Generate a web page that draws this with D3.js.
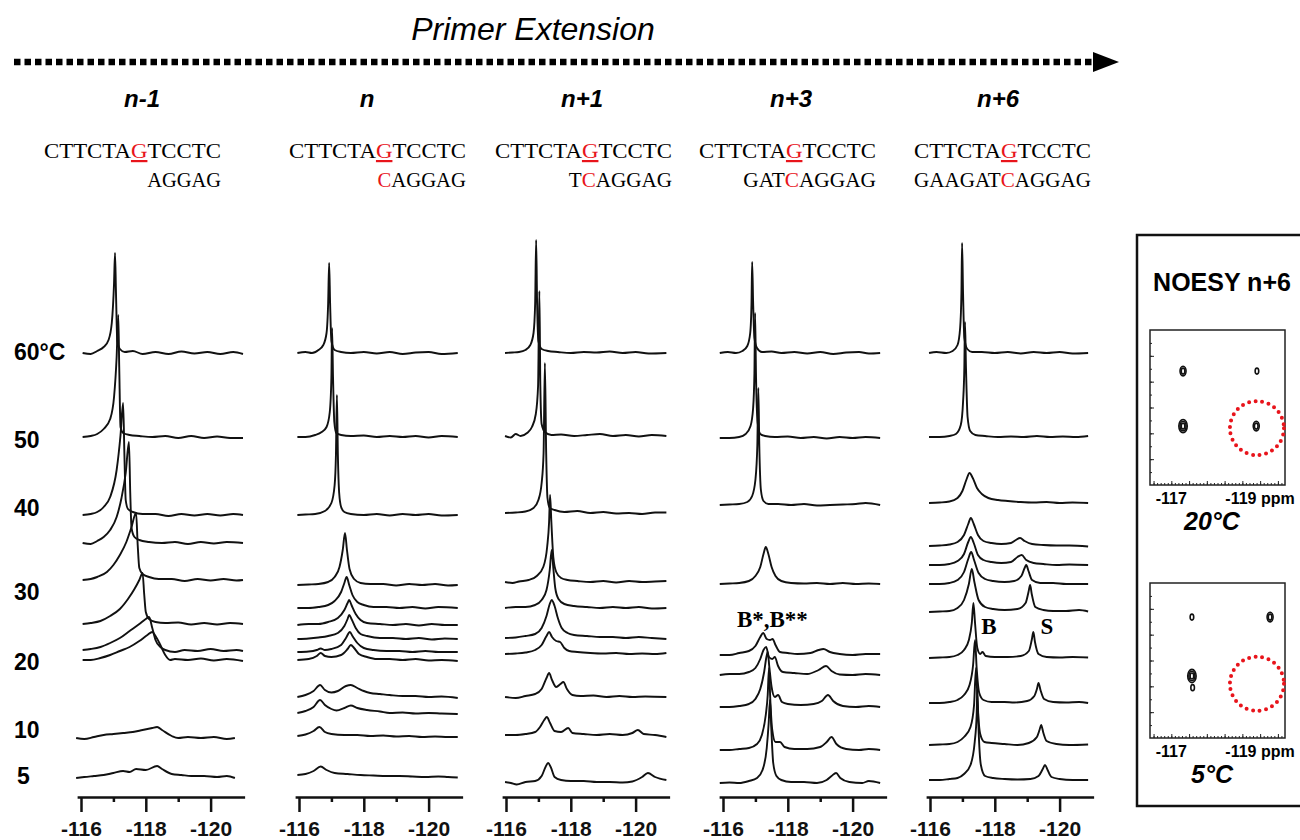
<!DOCTYPE html>
<html>
<head>
<meta charset="utf-8">
<script src="https://cdn.jsdelivr.net/npm/d3@7"></script>
<style>
  body { margin: 0; background: #fff; }
  svg { display: block; }
  .trace { fill: none; stroke: #111; stroke-width: 1.9; stroke-linejoin: round; }
  .axis path, .axis line { stroke: #111; stroke-width: 2.5; }
  .axis text { font-family: "Liberation Sans", Arial, sans-serif; font-weight: bold; font-size: 21px; fill: #111; }
</style>
</head>
<body>
<div id="chart"></div>
<script>
"use strict"

// ---- data ----
var panelNames = ['n-1', 'n', 'n+1', 'n+3', 'n+6'];
var topStrand = 'CTTCTAGTCCTC';
var bottomStrands = ['AGGAG', 'CAGGAG', 'TCAGGAG', 'GATCAGGAG', 'GAAGATCAGGAG'];
var redTop = 6;                       // underlined red G
var redBottom = [-1, 0, 1, 3, 6];     // red C in the new strand

var tempLabels = ['60°C', '50', '40', '30', '20', '10', '5'];
var tempLevels = [44.8, 36.0, 29.2, 20.8, 13.8, 7.0, 2.4]; // stacked intensity units

var majorTicks = [-116, -118, -120];
var minorTicks = [-117, -119];

// each trace: [baseline offset, [[ppm, intensity], ...]]
var specNm1 = [
  [44.7, [[-116.05,0],[-116.3,-0.1],[-116.5,0.2],[-116.7,0.6],[-116.85,1.3],[-116.95,3],[-117.02,7],[-117.05,10],[-117.08,6],[-117.12,1.2],[-117.2,0.4],[-117.35,0.1],[-117.6,0.2],[-117.9,-0.1],[-118.3,0.1],[-118.7,-0.1],[-119.1,0.15],[-119.5,-0.05],[-119.9,0.1],[-120.3,-0.1],[-120.7,0.1],[-121,-0.1]]],
  [36.3, [[-116.05,0],[-116.3,0.1],[-116.5,0.3],[-116.7,0.8],[-116.9,1.8],[-117.02,4],[-117.1,8],[-117.15,12.2],[-117.18,7],[-117.22,1],[-117.3,0.4],[-117.5,0.2],[-117.8,0.1],[-118.2,0],[-118.6,0.1],[-119,-0.1],[-119.4,0.1],[-119.8,-0.1],[-120.2,0.05],[-120.6,-0.1],[-121,-0.1]]],
  [28.5, [[-116.05,0],[-116.3,0.1],[-116.5,0.3],[-116.7,0.8],[-116.9,1.8],[-117.1,4.5],[-117.22,8],[-117.3,11.2],[-117.34,6],[-117.38,1.5],[-117.45,0.6],[-117.6,0.3],[-117.9,0.1],[-118.3,0.1],[-118.7,-0.1],[-119.1,0.1],[-119.5,-0.05],[-119.9,0.1],[-120.3,-0.05],[-120.7,0.1],[-121,0]]],
  [25.7, [[-116.05,0],[-116.3,-0.1],[-116.5,0.2],[-116.7,0.6],[-116.9,1.3],[-117.1,2.6],[-117.25,4.5],[-117.38,7],[-117.48,10.1],[-117.52,5],[-117.56,1.5],[-117.65,0.6],[-117.8,0.3],[-118.1,0.1],[-118.5,0],[-118.9,0.1],[-119.3,-0.1],[-119.7,0.1],[-120.1,-0.05],[-120.5,0.1],[-121,0]]],
  [22.0, [[-116.05,0],[-116.3,0.1],[-116.5,0.3],[-116.8,0.8],[-117.0,1.5],[-117.2,2.5],[-117.4,3.8],[-117.55,5.2],[-117.7,6.7],[-117.75,3.5],[-117.8,1.2],[-117.9,0.6],[-118.1,0.3],[-118.4,0.1],[-118.8,0.1],[-119.2,-0.1],[-119.6,0.1],[-120,-0.05],[-120.4,0.1],[-120.8,-0.05],[-121,0]]],
  [17.6, [[-116.05,0],[-116.3,0.1],[-116.6,0.3],[-116.9,0.8],[-117.2,1.5],[-117.45,2.5],[-117.65,3.5],[-117.8,4.4],[-117.9,5.1],[-117.95,3],[-118.0,1.2],[-118.1,0.5],[-118.3,0.2],[-118.6,0.1],[-119,0.15],[-119.4,-0.05],[-119.8,0.1],[-120.2,-0.05],[-120.6,0.1],[-121,0]]],
  [15.0, [[-116.05,0],[-116.3,0.1],[-116.6,0.3],[-116.9,0.7],[-117.2,1.2],[-117.5,1.9],[-117.8,2.6],[-118.0,3.1],[-118.1,3.3],[-118.2,2.2],[-118.3,1],[-118.45,0.3],[-118.6,0],[-118.9,-0.2],[-119.2,0],[-119.6,-0.1],[-120,0.1],[-120.4,-0.1],[-120.8,0],[-121,-0.1]]],
  [14.0, [[-116.05,0],[-116.3,0],[-116.6,0.2],[-116.9,0.5],[-117.2,0.9],[-117.5,1.3],[-117.8,1.9],[-118.05,2.5],[-118.2,2.8],[-118.3,2.4],[-118.45,1.5],[-118.6,0.5],[-118.75,0],[-118.9,0.1],[-119.3,0],[-119.7,0.15],[-120.1,-0.05],[-120.5,0.1],[-121,-0.1]]],
  [6.2, [[-115.85,0],[-116.1,-0.1],[-116.4,0.1],[-116.7,0.3],[-117.0,0.4],[-117.3,0.5],[-117.6,0.6],[-117.9,0.8],[-118.2,1],[-118.35,1.1],[-118.5,0.8],[-118.8,0.2],[-119.0,0],[-119.3,0.1],[-119.7,0],[-120.1,0.1],[-120.5,-0.1],[-120.75,0]]],
  [2.2, [[-115.85,0],[-116.1,0.1],[-116.4,0.2],[-116.7,0.3],[-117.0,0.5],[-117.3,0.7],[-117.5,0.6],[-117.7,0.9],[-118.0,0.8],[-118.35,1.2],[-118.5,0.9],[-118.8,0.4],[-119.1,0.3],[-119.4,0.2],[-119.8,0.2],[-120.2,0.1],[-120.5,0.2],[-120.75,0]]]
];

var specN = [
  [44.7, [[-115.95,0],[-116.2,0.1],[-116.4,0],[-116.6,0.3],[-116.75,0.8],[-116.85,2],[-116.9,5],[-116.93,9],[-116.96,5],[-117.0,1.2],[-117.1,0.3],[-117.3,0.1],[-117.6,0],[-118,0.1],[-118.4,-0.05],[-118.8,0.1],[-119.2,-0.1],[-119.6,0.05],[-120,0.1],[-120.4,-0.1],[-120.9,0]]],
  [36.3, [[-115.95,0],[-116.2,0],[-116.5,0.2],[-116.7,0.5],[-116.85,1],[-116.95,2.5],[-117.0,6],[-117.02,10.9],[-117.05,6],[-117.09,1.5],[-117.15,0.4],[-117.3,0.2],[-117.6,0.1],[-118,0.15],[-118.4,0],[-118.8,0.1],[-119.2,0],[-119.6,0.1],[-120,-0.05],[-120.4,0.1],[-120.9,0]]],
  [28.5, [[-115.95,0],[-116.2,0.05],[-116.5,0.1],[-116.8,0.4],[-117.0,1.2],[-117.1,3],[-117.14,6],[-117.17,12],[-117.2,6],[-117.24,2.2],[-117.3,0.8],[-117.4,0.3],[-117.6,0.1],[-118,0],[-118.4,0.1],[-118.8,-0.05],[-119.2,0.1],[-119.6,0],[-120,0.1],[-120.4,-0.05],[-120.9,0]]],
  [21.5, [[-115.95,0],[-116.3,0.05],[-116.6,0.1],[-116.9,0.3],[-117.1,0.8],[-117.25,1.8],[-117.35,3.5],[-117.42,5.2],[-117.48,3.5],[-117.56,1.6],[-117.7,0.6],[-117.9,0.2],[-118.2,0.1],[-118.6,0.1],[-119,-0.05],[-119.4,0.1],[-119.8,0],[-120.2,0.1],[-120.6,-0.05],[-120.9,0]]],
  [19.2, [[-115.95,0],[-116.3,0],[-116.6,0.1],[-116.9,0.3],[-117.1,0.7],[-117.3,1.6],[-117.4,2.5],[-117.47,3.1],[-117.55,2.3],[-117.65,1.3],[-117.8,0.6],[-118,0.3],[-118.3,0.1],[-118.7,0.1],[-119.1,0],[-119.5,0.1],[-119.9,-0.05],[-120.3,0.1],[-120.9,0]]],
  [17.5, [[-115.95,0],[-116.3,0.1],[-116.6,0.1],[-116.9,0.3],[-117.2,0.7],[-117.4,1.5],[-117.5,2.2],[-117.55,2.5],[-117.62,2],[-117.75,1.1],[-117.9,0.5],[-118.1,0.2],[-118.5,0.1],[-118.9,0],[-119.3,0.1],[-119.7,-0.05],[-120.1,0.1],[-120.5,0],[-120.9,0]]],
  [16.1, [[-115.95,0],[-116.3,0.05],[-116.6,0.15],[-116.9,0.3],[-117.2,0.6],[-117.4,1.3],[-117.5,2],[-117.55,2.4],[-117.62,2],[-117.75,1.1],[-117.9,0.5],[-118.1,0.3],[-118.5,0.1],[-118.9,0.1],[-119.3,0],[-119.7,0.1],[-120.1,-0.05],[-120.5,0.05],[-120.9,0]]],
  [14.8, [[-115.95,0],[-116.3,0.05],[-116.55,0.2],[-116.67,0.35],[-116.8,0.2],[-117.0,0.3],[-117.3,0.7],[-117.45,1.4],[-117.57,2.0],[-117.65,1.6],[-117.8,0.9],[-118,0.4],[-118.3,0.2],[-118.7,0.1],[-119.1,0.1],[-119.5,0],[-119.9,0.1],[-120.3,0],[-120.9,0]]],
  [14.0, [[-115.95,0],[-116.3,0.1],[-116.55,0.4],[-116.67,0.7],[-116.8,0.4],[-117.0,0.3],[-117.3,0.5],[-117.5,1.1],[-117.6,1.5],[-117.7,1.2],[-117.85,0.6],[-118.1,0.3],[-118.4,0.1],[-118.8,0.1],[-119.2,0],[-119.6,0.1],[-120,-0.05],[-120.4,0],[-120.9,-0.1]]],
  [10.3, [[-115.95,0],[-116.2,0.2],[-116.45,0.6],[-116.65,1.2],[-116.8,0.7],[-117.0,0.45],[-117.2,0.6],[-117.45,1.1],[-117.6,1.2],[-117.8,0.9],[-118.0,0.6],[-118.2,0.4],[-118.5,0.3],[-118.8,0.2],[-119.2,0.1],[-119.6,0.1],[-120,0],[-120.4,0.05],[-120.9,-0.1]]],
  [8.7, [[-115.95,0],[-116.2,0.2],[-116.45,0.6],[-116.65,1.3],[-116.8,0.8],[-117.0,0.4],[-117.16,0.25],[-117.4,0.5],[-117.6,0.75],[-117.8,0.5],[-118.1,0.3],[-118.5,0.15],[-118.8,0],[-119.2,0.05],[-119.6,-0.05],[-120,0],[-120.4,-0.05],[-120.9,-0.1]]],
  [6.4, [[-115.95,0],[-116.2,0.15],[-116.45,0.5],[-116.63,0.9],[-116.8,0.4],[-117.0,0.2],[-117.4,0.1],[-117.8,0.1],[-118.2,0],[-118.6,0.05],[-119,-0.05],[-119.4,0],[-119.8,-0.1],[-120.2,-0.05],[-120.6,-0.1],[-120.9,-0.1]]],
  [2.5, [[-115.95,0],[-116.2,0.1],[-116.45,0.4],[-116.67,0.85],[-116.85,0.5],[-117.1,0.2],[-117.5,0.1],[-117.9,0],[-118.3,-0.05],[-118.7,-0.1],[-119.1,-0.1],[-119.5,-0.15],[-119.9,-0.2],[-120.3,-0.15],[-120.6,-0.2],[-120.9,-0.25]]]
];

var specN1 = [
  [44.7, [[-115.97,0],[-116.2,0.05],[-116.4,0.1],[-116.6,0.3],[-116.75,0.8],[-116.85,2],[-116.9,5],[-116.93,11.3],[-116.96,5],[-117.0,1.2],[-117.1,0.4],[-117.3,0.2],[-117.6,0.1],[-118,0],[-118.4,0.1],[-118.8,0.05],[-119.2,0.15],[-119.6,0],[-120,0.1],[-120.4,-0.05],[-120.95,0]]],
  [36.4, [[-115.97,0],[-116.15,-0.15],[-116.3,0.2],[-116.45,0],[-116.65,0.3],[-116.8,0.9],[-116.92,2.2],[-116.99,5],[-117.03,14.5],[-117.06,5],[-117.1,1.2],[-117.2,0.4],[-117.4,0.1],[-117.7,0.15],[-118.1,0],[-118.5,0.1],[-118.9,0.2],[-119.3,0],[-119.7,0.1],[-120.1,-0.05],[-120.5,0.1],[-120.95,0]]],
  [28.7, [[-115.97,0],[-116.3,0.05],[-116.6,0.15],[-116.85,0.5],[-117.0,1.3],[-117.1,3],[-117.16,6],[-117.2,15],[-117.24,6],[-117.28,1.5],[-117.35,0.5],[-117.5,0.3],[-117.8,0.1],[-118.2,0.2],[-118.6,0],[-119,0.1],[-119.4,-0.05],[-119.8,0],[-120.2,-0.1],[-120.6,0.05],[-120.95,0.05]]],
  [21.8, [[-115.97,0],[-116.2,-0.1],[-116.4,0.05],[-116.7,0.2],[-116.95,0.6],[-117.15,1.5],[-117.27,3.5],[-117.33,6],[-117.36,8.7],[-117.4,6],[-117.46,2.5],[-117.55,1],[-117.7,0.4],[-117.9,0.2],[-118.2,0.1],[-118.6,0],[-119,0.1],[-119.4,-0.05],[-119.8,0.1],[-120.2,0],[-120.6,0.05],[-120.95,0.1]]],
  [19.2, [[-115.97,0],[-116.3,0.1],[-116.6,0.1],[-116.9,0.3],[-117.1,0.8],[-117.25,1.8],[-117.35,3.8],[-117.41,5.8],[-117.46,4],[-117.52,2],[-117.62,0.9],[-117.8,0.4],[-118.1,0.2],[-118.5,0.1],[-118.9,0],[-119.3,0.1],[-119.7,0],[-120.1,0.1],[-120.5,-0.05],[-120.95,0]]],
  [16.2, [[-115.97,0],[-116.3,0.05],[-116.6,0.2],[-116.9,0.4],[-117.1,1],[-117.25,2.2],[-117.35,3.4],[-117.41,3.8],[-117.5,3.2],[-117.6,2],[-117.72,1],[-117.9,0.5],[-118.1,0.3],[-118.5,0.2],[-118.9,0.1],[-119.3,0.1],[-119.7,0],[-120.1,0.1],[-120.5,0],[-120.95,-0.1]]],
  [14.6, [[-115.97,0],[-116.3,0.05],[-116.6,0.15],[-116.9,0.4],[-117.1,0.9],[-117.25,1.8],[-117.33,2.2],[-117.42,1.7],[-117.55,1.3],[-117.67,1.2],[-117.8,0.6],[-117.95,0.3],[-118.2,0.2],[-118.6,0.1],[-119,0.05],[-119.4,0.1],[-119.8,0],[-120.2,0.05],[-120.6,0],[-120.95,0.1]]],
  [10.3, [[-115.97,0],[-116.3,-0.1],[-116.6,0.1],[-116.9,0.3],[-117.1,0.8],[-117.25,1.9],[-117.33,2.4],[-117.42,1.7],[-117.55,1.0],[-117.68,1.3],[-117.77,1.5],[-117.88,0.8],[-118.05,0.2],[-118.3,0.1],[-118.7,0.15],[-119.1,0],[-119.5,0.1],[-119.9,0],[-120.3,0.05],[-120.95,0]]],
  [6.5, [[-115.97,0],[-116.3,0],[-116.6,0.1],[-116.9,0.3],[-117.05,0.8],[-117.18,1.5],[-117.26,1.8],[-117.36,1.2],[-117.5,0.4],[-117.7,0.3],[-117.92,0.7],[-118.05,0.2],[-118.4,0.1],[-118.8,0],[-119.2,0.1],[-119.6,0],[-119.9,0.2],[-120.07,0.5],[-120.25,0.1],[-120.6,0],[-120.95,-0.2]]],
  [1.8, [[-115.97,0],[-116.15,-0.1],[-116.33,-0.25],[-116.6,0],[-116.9,0.1],[-117.1,0.6],[-117.22,1.5],[-117.3,1.9],[-117.38,1.5],[-117.5,0.5],[-117.7,0.2],[-118,0.1],[-118.4,0.1],[-118.8,0],[-119.2,0],[-119.6,-0.05],[-119.9,0.05],[-120.2,0.5],[-120.38,0.9],[-120.6,0.5],[-120.95,0.2]]]
];

var specN3 = [
  [44.7, [[-115.9,0],[-116.15,0.1],[-116.4,0],[-116.6,0.2],[-116.75,0.7],[-116.84,2],[-116.88,5],[-116.9,9.1],[-116.93,5],[-116.97,1.5],[-117.05,0.5],[-117.2,0.1],[-117.5,0.15],[-117.8,0],[-118.2,0.1],[-118.6,-0.05],[-119,0.1],[-119.4,-0.1],[-119.8,0.05],[-120.2,0.1],[-120.5,-0.05],[-120.85,0]]],
  [36.2, [[-115.9,0],[-116.2,0],[-116.5,0.1],[-116.7,0.4],[-116.85,1.2],[-116.93,3],[-116.97,6.5],[-116.99,12.5],[-117.02,6],[-117.07,1.5],[-117.15,0.4],[-117.3,0.2],[-117.6,0.1],[-118,0.15],[-118.4,0],[-118.8,0.1],[-119.2,-0.05],[-119.6,0.1],[-120,0],[-120.4,0.1],[-120.85,0]]],
  [29.5, [[-115.9,0],[-116.2,0.05],[-116.5,0.1],[-116.75,0.3],[-116.9,0.9],[-117.0,2.5],[-117.06,6],[-117.09,11.7],[-117.12,6],[-117.17,1.5],[-117.25,0.4],[-117.4,0.1],[-117.7,0.1],[-118.1,0],[-118.5,0.1],[-118.9,-0.05],[-119.3,0],[-119.7,0.05],[-120.1,0.1],[-120.4,0.2],[-120.85,0]]],
  [21.6, [[-115.9,0],[-116.2,0.05],[-116.5,0.1],[-116.8,0.3],[-117.0,0.8],[-117.15,1.7],[-117.25,3],[-117.32,3.7],[-117.4,3],[-117.5,1.7],[-117.62,0.8],[-117.8,0.3],[-118.1,0.1],[-118.5,0.05],[-118.9,0.1],[-119.3,0],[-119.7,0.1],[-120.1,0],[-120.5,0.05],[-120.85,0]]],
  [14.5, [[-115.9,0],[-116.2,0],[-116.5,0.2],[-116.8,0.4],[-117.0,0.9],[-117.15,1.8],[-117.24,2.2],[-117.35,1.6],[-117.45,1.5],[-117.53,1.6],[-117.62,1],[-117.76,0.3],[-118,0.2],[-118.3,0.1],[-118.7,0.2],[-118.95,0.5],[-119.1,0.6],[-119.3,0.3],[-119.6,0.1],[-120,0],[-120.4,0.1],[-120.85,0.1]]],
  [12.5, [[-115.9,0],[-116.2,0.1],[-116.5,0.1],[-116.8,0.3],[-117.0,0.7],[-117.15,1.6],[-117.25,2.5],[-117.33,2.8],[-117.42,1.8],[-117.52,1.6],[-117.6,1.8],[-117.7,0.9],[-117.85,0.3],[-118.2,0.2],[-118.6,0.1],[-118.95,0.5],[-119.18,0.9],[-119.35,0.4],[-119.6,0.05],[-120,0],[-120.4,0.1],[-120.85,0]]],
  [9.3, [[-115.9,0],[-116.2,0],[-116.5,0.1],[-116.8,0.3],[-117.0,0.8],[-117.15,1.8],[-117.27,3.5],[-117.34,5],[-117.38,5.5],[-117.43,4],[-117.5,2],[-117.6,1],[-117.7,1.2],[-117.82,0.5],[-118,0.3],[-118.4,0.2],[-118.8,0.3],[-119.05,0.6],[-119.24,1.2],[-119.4,0.6],[-119.7,0.1],[-120.1,0],[-120.5,0.1],[-120.85,0]]],
  [5.0, [[-115.9,0],[-116.2,0],[-116.5,0.1],[-116.8,0.2],[-117.05,0.6],[-117.2,1.5],[-117.32,3.5],[-117.38,5.5],[-117.42,8.2],[-117.46,5],[-117.52,2],[-117.62,0.8],[-117.76,0.8],[-117.9,0.3],[-118.2,0.1],[-118.6,0.1],[-119,0.3],[-119.2,0.8],[-119.35,1.3],[-119.5,0.6],[-119.8,0.1],[-120.2,0],[-120.5,0.1],[-120.85,0]]],
  [1.7, [[-115.9,0],[-116.2,0.05],[-116.5,0],[-116.8,0.2],[-117.05,0.5],[-117.22,1.3],[-117.35,3.5],[-117.41,6],[-117.45,8.3],[-117.49,5.5],[-117.55,2],[-117.65,0.7],[-117.8,0.3],[-118.1,0.1],[-118.5,0.1],[-118.9,0],[-119.2,0.3],[-119.35,0.7],[-119.49,1],[-119.62,0.5],[-119.9,0.1],[-120.3,0],[-120.5,0.2],[-120.85,0]]]
];

var specN6 = [
  [44.7, [[-115.97,0],[-116.2,0.1],[-116.5,0],[-116.7,0.2],[-116.85,0.8],[-116.93,2.5],[-116.97,6],[-116.99,11],[-117.02,6],[-117.06,1.5],[-117.15,0.4],[-117.3,0.1],[-117.6,0.1],[-118,0],[-118.4,0.1],[-118.8,-0.05],[-119.2,0.1],[-119.6,0],[-120,0.1],[-120.4,-0.05],[-120.88,0]]],
  [36.3, [[-115.97,0],[-116.3,0],[-116.6,0.1],[-116.8,0.3],[-116.95,1.2],[-117.02,3.5],[-117.06,7],[-117.08,11.5],[-117.11,7],[-117.16,2],[-117.24,0.6],[-117.4,0.2],[-117.7,0.1],[-118.1,0],[-118.5,0.05],[-118.9,0],[-119.3,0.1],[-119.7,0],[-120.1,0.05],[-120.5,0],[-120.88,0.1]]],
  [29.7, [[-115.97,0],[-116.3,0.05],[-116.6,0.15],[-116.85,0.5],[-117.0,1.2],[-117.12,2.3],[-117.22,3],[-117.32,2.5],[-117.45,1.5],[-117.6,0.9],[-117.8,0.5],[-118.1,0.3],[-118.4,0.2],[-118.8,0.1],[-119.2,0.05],[-119.6,0.1],[-120,0],[-120.4,0.05],[-120.88,0]]],
  [25.4, [[-115.97,0],[-116.3,0.05],[-116.6,0.15],[-116.85,0.4],[-117.05,1.1],[-117.18,2.2],[-117.26,2.8],[-117.35,2.2],[-117.48,1.1],[-117.65,0.5],[-117.9,0.3],[-118.2,0.2],[-118.5,0.3],[-118.65,0.6],[-118.78,0.8],[-118.92,0.5],[-119.15,0.2],[-119.5,0.1],[-119.9,0.05],[-120.3,0.05],[-120.88,-0.05]]],
  [23.5, [[-115.97,0],[-116.3,0],[-116.6,0.1],[-116.85,0.4],[-117.05,1.1],[-117.18,2.3],[-117.26,2.8],[-117.35,2.2],[-117.48,1],[-117.65,0.5],[-117.9,0.3],[-118.2,0.2],[-118.5,0.3],[-118.7,0.8],[-118.83,1],[-118.97,0.5],[-119.2,0.2],[-119.5,0.1],[-119.9,0],[-120.3,0.05],[-120.88,0]]],
  [21.6, [[-115.97,0],[-116.3,0],[-116.6,0.1],[-116.85,0.4],[-117.05,1.2],[-117.18,2.5],[-117.27,3.2],[-117.36,2.4],[-117.5,1.1],[-117.7,0.5],[-117.95,0.3],[-118.3,0.2],[-118.6,0.3],[-118.82,0.8],[-118.92,1.6],[-118.97,1.9],[-119.04,1.3],[-119.15,0.4],[-119.4,0.1],[-119.8,0.1],[-120.2,0],[-120.88,0]]],
  [18.8, [[-115.97,0],[-116.3,0.05],[-116.6,0.1],[-116.85,0.4],[-117.05,1.2],[-117.2,2.8],[-117.29,4.3],[-117.37,3],[-117.5,1.2],[-117.7,0.5],[-117.95,0.3],[-118.3,0.2],[-118.7,0.3],[-118.95,0.9],[-119.04,2],[-119.09,2.7],[-119.14,1.8],[-119.25,0.5],[-119.5,0.2],[-119.8,0.1],[-120.2,0.1],[-120.6,0.2],[-120.88,0.05]]],
  [14.2, [[-115.97,0],[-116.3,0.05],[-116.6,0.1],[-116.85,0.3],[-117.05,0.8],[-117.2,1.8],[-117.29,3.5],[-117.34,5.5],[-117.39,3.5],[-117.46,1],[-117.55,0.4],[-117.62,0.6],[-117.72,0.2],[-118,0.1],[-118.4,0.1],[-118.8,0.2],[-119.05,0.7],[-119.14,1.8],[-119.19,2.6],[-119.24,1.6],[-119.35,0.4],[-119.6,0.1],[-120,0.05],[-120.4,0.1],[-120.88,0.05]]],
  [9.7, [[-115.97,0],[-116.3,0],[-116.6,0.1],[-116.85,0.3],[-117.05,0.8],[-117.22,1.8],[-117.33,3.8],[-117.39,6.3],[-117.44,3.5],[-117.52,1],[-117.65,0.3],[-117.9,0.1],[-118.3,0.1],[-118.6,0.05],[-119,0.2],[-119.22,0.7],[-119.3,1.4],[-119.35,2],[-119.41,1.3],[-119.52,0.4],[-119.8,0.1],[-120.2,0.05],[-120.6,0.1],[-120.88,0]]],
  [5.5, [[-115.97,0],[-116.3,0.05],[-116.6,0.1],[-116.85,0.3],[-117.05,0.8],[-117.25,1.8],[-117.36,4],[-117.42,7.7],[-117.47,4],[-117.55,1.1],[-117.68,0.3],[-117.9,0.2],[-118.3,0.1],[-118.7,0],[-119.05,0.2],[-119.3,0.8],[-119.38,1.5],[-119.43,2],[-119.5,1.2],[-119.6,0.4],[-119.9,0.1],[-120.3,0],[-120.88,0.05]]],
  [2.0, [[-115.97,0],[-116.3,0],[-116.6,0.1],[-116.85,0.2],[-117.05,0.6],[-117.25,1.5],[-117.38,3.8],[-117.44,6.5],[-117.46,9],[-117.5,5],[-117.57,1.5],[-117.7,0.4],[-117.95,0.2],[-118.3,0.1],[-118.7,0.05],[-119.1,0.1],[-119.35,0.4],[-119.48,1.1],[-119.55,1.5],[-119.63,1],[-119.75,0.3],[-120,0.1],[-120.4,0],[-120.88,0]]]
];

var spectra = [specNm1, specN, specN1, specN3, specN6];

// peak labels: [panel, text, ppm, level]
var peakLabels = [[3, 'B*,B**', -116.43, 17.3], [4, 'B', -117.82, 16.6], [4, 'S', -119.61, 16.6]];

// NOESY inset: [F2 ppm, F1 ppm, contour levels]
var noesyTemps = ['20°C', '5°C'];
var noesy20 = [[-117.33, -119.41, 2], [-119.41, -119.41, 1], [-117.33, -117.28, 3], [-119.39, -117.28, 2]];
var noesy5 = [[-117.58, -119.68, 1], [-119.78, -119.68, 2], [-117.58, -117.4, 3], [-117.6, -116.95, 1]];
var noesyPeaks = [noesy20, noesy5];
var noesyCircles = [[-119.41, -117.2], [-119.41, -117.1]];

// ---- layout ----
var W = 1300, H = 840;
var panelX = [81, 299, 506, 723, 930];     // x of -116 tick
var titleX = [142, 367, 582, 791, 998];
var seqRight = [221, 466, 672, 876, 1091];
var ppmPx = 32.4;
var axisY = 797;
var sans = '"Liberation Sans", Arial, sans-serif';
var serif = '"Liberation Serif", "Times New Roman", serif';

var svg = d3.select('#chart').append('svg')
  .attr('width', W)
  .attr('height', H);

var ys = d3.scaleLinear().domain([0, 56]).range([800, 240]);

// title + dotted arrow
svg.append('text')
  .attr('x', 533).attr('y', 40)
  .attr('text-anchor', 'middle')
  .style('font-family', sans)
  .style('font-style', 'italic')
  .style('font-size', '32px')
  .text('Primer Extension');

svg.append('line')
  .attr('x1', 14).attr('x2', 1094)
  .attr('y1', 62).attr('y2', 62)
  .attr('stroke', '#000')
  .attr('stroke-width', 6.5)
  .attr('stroke-dasharray', '6.5 4');

svg.append('path')
  .attr('d', 'M1093,52 L1119,62 L1093,72 Z')
  .attr('fill', '#000');

// temperature labels
svg.selectAll('.temp').data(tempLabels).enter()
  .append('text')
  .attr('class', 'temp')
  .attr('x', (d, i) => d === '5' ? 17 : 14)
  .attr('y', (d, i) => ys(tempLevels[i]) + 8)
  .style('font-family', sans)
  .style('font-weight', 'bold')
  .style('font-size', '23px')
  .text(d => d);

panelNames.forEach(function (name, p) {
  var g = svg.append('g');
  var x0 = panelX[p];
  var xs = d3.scaleLinear()
    .domain([-115.88, -121.05])
    .range([x0 - 0.12 * ppmPx, x0 + 5.05 * ppmPx]);

  // panel title
  g.append('text')
    .attr('x', titleX[p]).attr('y', 107)
    .attr('text-anchor', 'middle')
    .style('font-family', sans)
    .style('font-weight', 'bold')
    .style('font-style', 'italic')
    .style('font-size', '24px')
    .text(name);

  // template strand
  var t1 = g.append('text')
    .attr('x', seqRight[p]).attr('y', 158)
    .attr('text-anchor', 'end')
    .attr('textLength', topStrand.length * 14.75)
    .attr('lengthAdjust', 'spacingAndGlyphs')
    .style('font-family', serif)
    .style('font-size', '22px');
  t1.append('tspan').text(topStrand.slice(0, redTop));
  t1.append('tspan').attr('fill', '#e8141b')
    .style('text-decoration', 'underline')
    .text(topStrand[redTop]);
  t1.append('tspan').text(topStrand.slice(redTop + 1));

  // primer strand
  var b = bottomStrands[p];
  var t2 = g.append('text')
    .attr('x', seqRight[p]).attr('y', 187)
    .attr('text-anchor', 'end')
    .attr('textLength', b.length * 14.75)
    .attr('lengthAdjust', 'spacingAndGlyphs')
    .style('font-family', serif)
    .style('font-size', '22px');
  if (redBottom[p] < 0) {
    t2.append('tspan').text(b);
  } else {
    t2.append('tspan').text(b.slice(0, redBottom[p]));
    t2.append('tspan').attr('fill', '#e8141b').text(b[redBottom[p]]);
    t2.append('tspan').text(b.slice(redBottom[p] + 1));
  }

  // spectra
  var line = d3.line()
    .x(d => xs(d[0]))
    .y(d => ys(d[1]))
    .curve(d3.curveMonotoneX);

  g.selectAll('.trace').data(spectra[p]).enter()
    .append('path')
    .attr('class', 'trace')
    .attr('d', t => line(t[1].map(pt => [pt[0], t[0] + pt[1]])));

  // axes
  g.append('g')
    .attr('class', 'axis')
    .attr('transform', 'translate(0,' + axisY + ')')
    .call(d3.axisBottom(xs).tickValues(majorTicks).tickSize(15).tickSizeOuter(0).tickPadding(9).tickFormat(d => String(d)));

  var minor = g.append('g')
    .attr('class', 'axis')
    .attr('transform', 'translate(0,' + axisY + ')')
    .call(d3.axisBottom(xs).tickValues(minorTicks).tickSize(5).tickSizeOuter(0).tickFormat(''));
  minor.select('.domain').remove();

  // peak labels
  peakLabels.filter(l => l[0] === p).forEach(function (l) {
    g.append('text')
      .attr('x', xs(l[2])).attr('y', ys(l[3]))
      .attr('text-anchor', l[1].length > 1 ? 'start' : 'middle')
      .style('font-family', serif)
      .style('font-weight', 'bold')
      .style('font-size', '23px')
      .text(l[1]);
  });
});

// ---- NOESY inset ----
var box = svg.append('g');
box.append('rect')
  .attr('x', 1137).attr('y', 235)
  .attr('width', 180).attr('height', 571)
  .attr('fill', 'none')
  .attr('stroke', '#111')
  .attr('stroke-width', 2.5);

box.append('text')
  .attr('x', 1222).attr('y', 291)
  .attr('text-anchor', 'middle')
  .style('font-family', sans)
  .style('font-weight', 'bold')
  .style('font-size', '25px')
  .text('NOESY n+6');

var plotTops = [330, 583];

noesyTemps.forEach(function (temp, k) {
  var top = plotTops[k], bottom = top + 155;
  var nx = d3.scaleLinear().domain([-116.4, -120.2]).range([1150, 1285]);
  var ny = d3.scaleLinear().domain([-121, -115]).range([top, bottom]);
  var pg = box.append('g');

  pg.append('rect')
    .attr('x', 1150).attr('y', top)
    .attr('width', 135).attr('height', 155)
    .attr('fill', 'none')
    .attr('stroke', '#222')
    .attr('stroke-width', 1.5);

  // inward ticks
  var bx = pg.append('g').attr('transform', 'translate(0,' + bottom + ')')
    .call(d3.axisBottom(nx).tickValues(d3.range(-116.5, -120.15, -0.1)).tickSize(-2).tickFormat(''));
  var bx2 = pg.append('g').attr('transform', 'translate(0,' + bottom + ')')
    .call(d3.axisBottom(nx).tickValues(d3.range(-116.5, -120.15, -0.5)).tickSize(-4).tickFormat(''));
  var lx = pg.append('g').attr('transform', 'translate(1150,0)')
    .call(d3.axisLeft(ny).tickValues(d3.range(-120.5, -115, 0.5)).tickSize(-2).tickFormat(''));
  var lx2 = pg.append('g').attr('transform', 'translate(1150,0)')
    .call(d3.axisLeft(ny).tickValues(d3.range(-120, -115, 1)).tickSize(-4).tickFormat(''));
  [bx, bx2, lx, lx2].forEach(function (a) {
    a.select('.domain').remove();
    a.selectAll('line').attr('stroke', '#222').attr('stroke-width', 1);
  });

  // contour peaks
  noesyPeaks[k].forEach(function (pk) {
    d3.range(1, pk[2] + 1).forEach(function (r) {
      pg.append('ellipse')
        .attr('cx', nx(pk[0])).attr('cy', ny(pk[1]))
        .attr('rx', 0.6 + r * 1.2).attr('ry', 1.2 + r * 1.8)
        .attr('fill', 'none')
        .attr('stroke', '#111')
        .attr('stroke-width', 1.6);
    });
  });

  // red dotted circle
  pg.append('circle')
    .attr('cx', nx(noesyCircles[k][0])).attr('cy', ny(noesyCircles[k][1]))
    .attr('r', 27)
    .attr('fill', 'none')
    .attr('stroke', '#e8141b')
    .attr('stroke-width', 4)
    .attr('stroke-linecap', 'round')
    .attr('stroke-dasharray', '0 6.6');

  pg.append('text')
    .attr('x', nx(-117)).attr('y', bottom + 19)
    .attr('text-anchor', 'middle')
    .style('font-family', sans)
    .style('font-weight', 'bold')
    .style('font-size', '16px')
    .text('-117');
  pg.append('text')
    .attr('x', nx(-119) - 17).attr('y', bottom + 19)
    .style('font-family', sans)
    .style('font-weight', 'bold')
    .style('font-size', '16px')
    .text('-119 ppm');

  pg.append('text')
    .attr('x', 1212).attr('y', bottom + 45)
    .attr('text-anchor', 'middle')
    .style('font-family', sans)
    .style('font-weight', 'bold')
    .style('font-style', 'italic')
    .style('font-size', '25px')
    .text(temp);
});
</script>
</body>
</html>
